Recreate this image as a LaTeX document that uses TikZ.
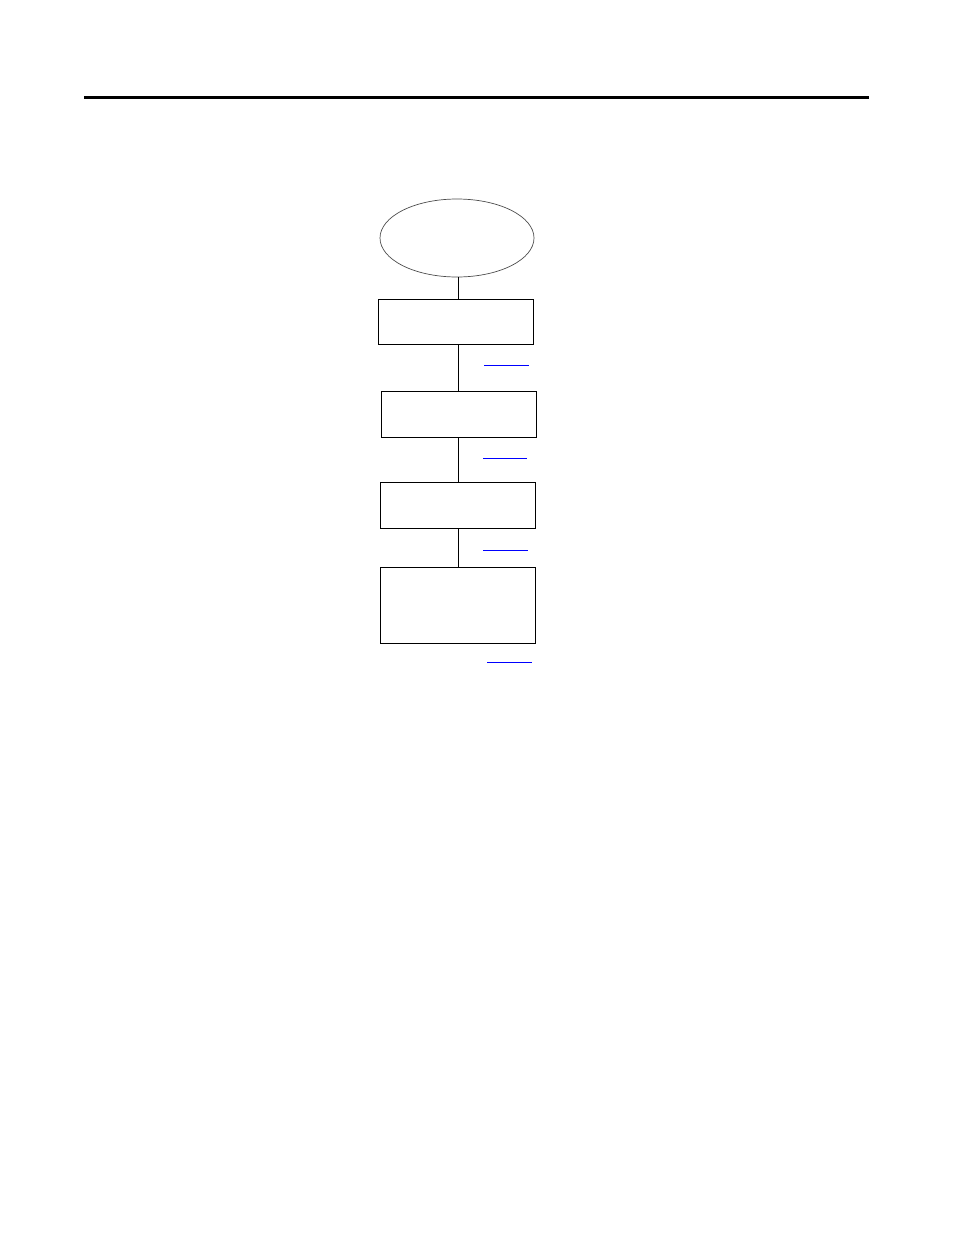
\documentclass[tikz,border=0pt]{standalone}
\usepackage{tikz}
\usepackage{xcolor}
\usetikzlibrary{shapes.geometric}

\begin{document}
\begin{tikzpicture}[x=1pt,y=-1pt,
    stepbox/.style={rectangle,draw,line width=1pt,minimum width=155pt,inner sep=0pt},
    link/.style={blue,line width=1pt},
    flow/.style={line width=1pt}]
        \useasboundingbox (0,0) rectangle (954,1235);
        \draw[line width=3pt] (84,97.5) -- (869,97.5);

        \node (start) at (457,238) [ellipse,draw,gray!60!black,line width=0.7pt,minimum width=154pt,minimum height=78pt,inner sep=0pt] {};
        \node (box1) at (455.5,321.5) [stepbox,minimum height=45pt] {};
        \node (box2) at (458.5,414) [stepbox,minimum height=46pt] {};
        \node (box3) at (457.5,505) [stepbox,minimum height=46pt] {};
        \node (box4) at (457.5,605) [stepbox,minimum height=76pt] {};
        \coordinate (spine) at (458,0);

        \draw[flow] (start.south -| spine) -- (box1.north -| spine)  (box1.south -| spine) -- (box2.north -| spine);
        \draw[flow] (box2.south -| spine) -- (box3.north -| spine)  (box3.south -| spine) -- (box4.north -| spine);

        \draw[link] (484,365) -- (529,365);
        \draw[link] (483,458) -- (527,458);
        \draw[link] (483,550) -- (528,550);
        \draw[link] (487,662) -- (532,662);
\end{tikzpicture}
\end{document}
